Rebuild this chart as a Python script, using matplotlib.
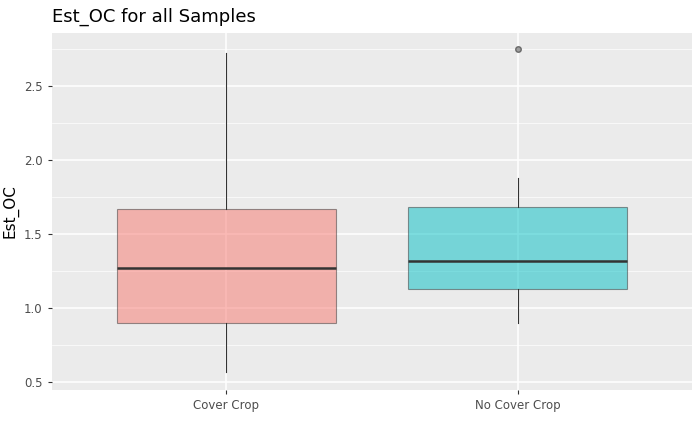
import matplotlib
matplotlib.use("Agg")
import matplotlib.pyplot as plt
import numpy as np

groups = ["Cover Crop", "No Cover Crop"]
whislo = [0.57, 0.90]
q1 = [0.90, 1.13]
med = [1.27, 1.32]
q3 = [1.67, 1.68]
whishi = [2.72, 1.88]
fliers = [[], [2.75]]
fills = ["#F8766D", "#00BFC4"]

fig = plt.figure(figsize=(7, 4.32), dpi=100)
ax = fig.add_axes([0.074, 0.097, 0.915, 0.827])
ax.set_facecolor("#EBEBEB")

stats = [dict(label=g, whislo=a, q1=b, med=c, q3=d, whishi=e, fliers=f)
         for g, a, b, c, d, e, f in zip(groups, whislo, q1, med, q3, whishi, fliers)]
bp = ax.bxp(stats, positions=[1, 2], widths=0.75, patch_artist=True,
            showcaps=False,
            boxprops=dict(edgecolor="#333333", linewidth=0.8),
            whiskerprops=dict(color="#333333", linewidth=0.8),
            medianprops=dict(color="#333333", linewidth=1.8),
            flierprops=dict(marker="o", markersize=4, markerfacecolor="#888888",
                            markeredgecolor="#555555", alpha=0.8))
for patch, c in zip(bp["boxes"], fills):
    patch.set_facecolor(c)
    patch.set_alpha(0.5)
    patch.set_edgecolor("#333333")

ax.set_xlim(0.4, 2.6)
ax.set_ylim(0.446, 2.858)
ax.set_yticks([0.5, 1.0, 1.5, 2.0, 2.5])
ax.set_yticklabels(["0.5", "1.0", "1.5", "2.0", "2.5"])
ax.set_yticks([0.75, 1.25, 1.75, 2.25, 2.75], minor=True)
ax.set_xticks([1, 2])
ax.set_xticklabels(groups)
ax.grid(True, which="major", color="white", linewidth=1.1)
ax.grid(True, which="minor", axis="y", color="white", linewidth=0.5)
ax.set_axisbelow(True)
for s in ax.spines.values():
    s.set_visible(False)
ax.tick_params(axis="both", which="major", colors="#333333", labelsize=8.5, length=3, labelcolor="#4D4D4D")
ax.tick_params(axis="both", which="minor", length=0)
ax.set_ylabel("Est_OC", fontsize=11)
ax.set_title("Est_OC for all Samples", loc="left", fontsize=13, pad=8)

fig.savefig("out.png", dpi=100)
